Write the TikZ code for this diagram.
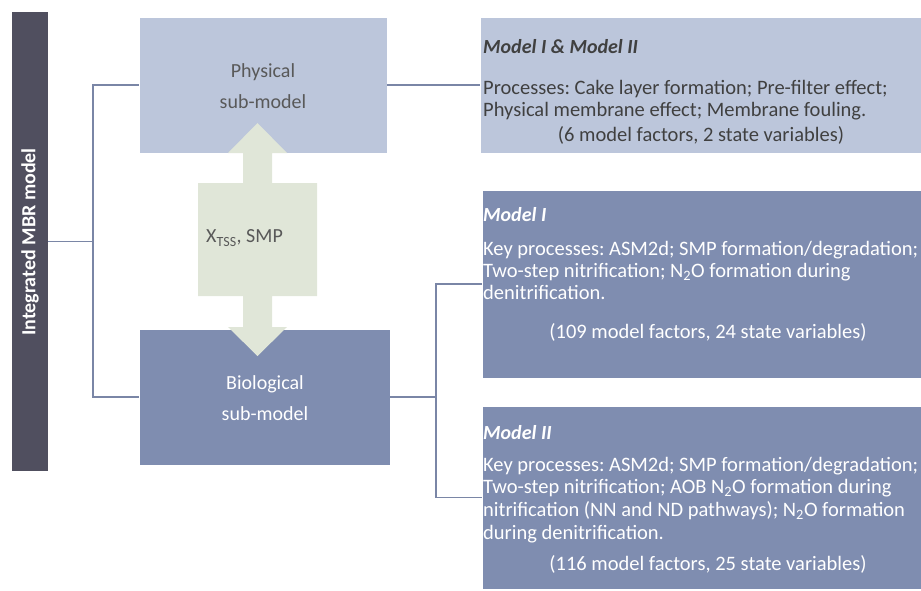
\documentclass[tikz,border=0pt]{standalone}
\usepackage{fontspec}
\setmainfont{Carlito}
\frenchspacing
\definecolor{barcol}{RGB}{80,79,95}
\definecolor{lightbox}{RGB}{188,198,219}
\definecolor{darkbox}{RGB}{127,141,176}
\definecolor{arrowcol}{RGB}{224,230,216}
\definecolor{linecol}{RGB}{122,134,166}
\definecolor{graytext}{RGB}{89,89,89}
\definecolor{infotext}{RGB}{64,64,64}
\tikzset{
  box/.style={rectangle, inner sep=0pt, draw=white, line width=0.6pt},
  conn/.style={draw=linecol, line width=1.3pt},
  subtext/.style={font=\fontsize{20}{31}\selectfont, align=center},
  infoline/.style={anchor=base west, inner sep=0pt, font=\fontsize{20.5}{22}\selectfont},
  infotitle/.style={anchor=base west, inner sep=0pt, font=\fontsize{20}{22}\selectfont\bfseries\itshape},
  infocount/.style={anchor=base, inner sep=0pt, font=\fontsize{20.5}{22}\selectfont},
}
\begin{document}
\begin{tikzpicture}[x=1pt,y=-1pt]
\useasboundingbox (0,0) rectangle (921,590);
% left bar
\node[box, draw=none, fill=barcol, minimum width=36pt, minimum height=459pt] (bar) at (30,241.5) {};
\node[rotate=90, text=white, font=\fontsize{20}{22}\selectfont\bfseries] (bartext) at (30,242) {Integrated MBR model};
% sub-model boxes
\node[box, fill=lightbox, minimum width=248pt, minimum height=136pt] (phys) at (263,85) {};
\node[box, fill=darkbox, minimum width=251pt, minimum height=136pt] (bio) at (264.5,397) {};
% info boxes
\node[box, fill=lightbox, minimum width=441pt, minimum height=136pt] (info) at (700.5,85) {};
\node[box, fill=darkbox, minimum width=439pt, minimum height=188pt] (m1) at (701.5,284) {};
\node[box, fill=darkbox, minimum width=439pt, minimum height=183pt] (m2) at (701.5,497.5) {};
% double arrow
\fill[arrowcol] (257.5,123) -- (287,153) -- (272,153) -- (272,183) -- (317,183) -- (317,296)
  -- (272,296) -- (272,327) -- (287,327) -- (257.5,356) -- (228,327) -- (243,327) -- (243,296)
  -- (198,296) -- (198,183) -- (243,183) -- (243,153) -- (228,153) -- cycle;
\node[anchor=west, inner sep=0pt, text=graytext, font=\fontsize{20}{22}\selectfont] (flux) at (206,238) {X\textsubscript{TSS}, SMP};
% sub-model labels
\node[subtext, text=graytext] (physlabel) at (263,86) {Physical\\sub-model};
\node[subtext, text=white] (biolabel) at (265,398) {Biological\\sub-model};
% connectors
\coordinate (j1) at (93,241.5);
\coordinate (j2) at (436,397);
\draw[conn] (bar.east) -- (j1);
\draw[conn] (phys.west) -| (j1);
\draw[conn] (bio.west) -| (j1);
\draw[conn] (phys.east) -- (info.west);
\draw[conn] (bio.east) -- (j2);
\draw[conn] (m1.west) -| (j2);
\draw[conn] (m2.west) -| (j2);
% info texts: physical
\begin{scope}[text=infotext]
\node[infotitle] (t0) at (483,53) {Model I \& Model II};
\node[infoline] (t0a) at (483,94) {Processes: Cake layer formation; Pre-filter effect;};
\node[infoline] (t0b) at (483,116) {Physical membrane effect; Membrane fouling.};
\node[infocount] (t0c) at (701,141) {(6 model factors, 2 state variables)};
\end{scope}
% Model I
\begin{scope}[text=white]
\node[infotitle] (t1) at (483,221) {Model I};
\node[infoline] (t1a) at (483,255) {Key processes: ASM2d; SMP formation/degradation;};
\node[infoline] (t1b) at (483,277) {Two-step nitrification; N\textsubscript{2}O formation during};
\node[infoline] (t1c) at (483,299) {denitrification.};
\node[infocount] (t1d) at (708,338) {(109 model factors, 24 state variables)};
% Model II
\node[infotitle] (t2) at (483,439) {Model II};
\node[infoline] (t2a) at (483,471) {Key processes: ASM2d; SMP formation/degradation;};
\node[infoline] (t2b) at (483,493) {Two-step nitrification; AOB N\textsubscript{2}O formation during};
\node[infoline] (t2c) at (483,516) {nitrification (NN and ND pathways); N\textsubscript{2}O formation};
\node[infoline] (t2d) at (483,539) {during denitrification.};
\node[infocount] (t2e) at (708,570) {(116 model factors, 25 state variables)};
\end{scope}
\end{tikzpicture}
\end{document}
